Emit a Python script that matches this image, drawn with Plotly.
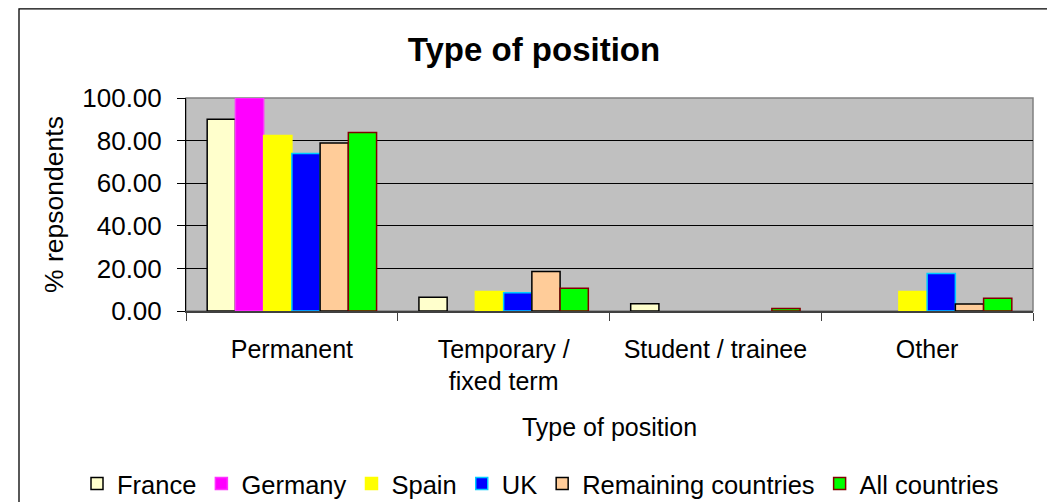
import plotly.graph_objects as go

categories = ["Permanent", "Temporary /<br>fixed term", "Student / trainee", "Other"]
france = [90.0, 6.4, 3.4, 0.0]
germany = [100.0, 0.0, 0.0, 0.0]
spain = [82.4, 9.1, 0.0, 9.1]
uk = [74.0, 8.6, 0.0, 17.6]
remaining = [78.9, 18.5, 0.0, 3.3]
all_countries = [83.8, 10.7, 1.2, 6.0]
y_ticks = [0, 20, 40, 60, 80, 100]

series = [
    ("France", france, "#FFFFCC", "#000000"),
    ("Germany", germany, "#FF00FF", "#FF33FF"),
    ("Spain", spain, "#FFFF00", "#FFFF00"),
    ("UK", uk, "#0000FF", "#00CCFF"),
    ("Remaining countries", remaining, "#FFCC99", "#000000"),
    ("All countries", all_countries, "#00FF00", "#800000"),
]

FONT = "Arial, 'Liberation Sans', sans-serif"

fig = go.Figure()
for name, vals, fill, line in series:
    fig.add_trace(go.Bar(
        name=name, x=categories,
        y=[v if v != 0 else None for v in vals],
        marker=dict(color=fill, line=dict(color=line, width=1.5)),
    ))

# page is offset by the default 8px body margin
OFF = 8
W, H = 1055 - OFF, 502 - OFF
PL, PR, PT, PB = 186 - OFF, 1033 - OFF, 98 - OFF, 311 - OFF
L, R, T, B = PL, W - PR, PT, H - PB
pw, ph = PR - PL, PB - PT

def fx(px):
    return (px - OFF - PL) / pw

def fy(py):
    return (PB - (py - OFF)) / ph

fig.update_layout(
    width=W, height=H,
    margin=dict(l=L, r=R, t=T, b=B, pad=0, autoexpand=False),
    paper_bgcolor="white",
    plot_bgcolor="#C0C0C0",
    barmode="group", bargap=0.2, bargroupgap=0,
    font=dict(family=FONT, size=25, color="black"),
    title=dict(text="<b>Type of position</b>", font=dict(size=33, family=FONT),
               x=(534 - OFF) / W, xanchor="center", xref="container",
               y=1 - (49 - OFF) / H, yanchor="middle", yref="container"),
    legend=dict(orientation="h", xref="paper", yref="paper",
                x=fx(77), xanchor="left", y=fy(484), yanchor="middle",
                font=dict(size=25.5), itemwidth=30, traceorder="normal",
                bgcolor="rgba(0,0,0,0)"),
    xaxis=dict(
        type="category", tickson="boundaries", ticks="outside", ticklen=8,
        tickcolor="#404040", tickwidth=1, automargin=False,
        showline=True, linecolor="#404040", linewidth=1.5,
        showgrid=False, ticklabelstandoff=15,
        title=dict(text="Type of position", standoff=24, font=dict(size=25)),
    ),
    yaxis=dict(
        range=[0, 100], tickvals=y_ticks, tickformat=".2f", automargin=False,
        ticks="outside", ticklen=8, tickcolor="black", tickwidth=1,
        showline=True, linecolor="black", linewidth=1,
        showgrid=True, gridcolor="black", gridwidth=1,
        zeroline=False, ticklabelstandoff=10, tickfont=dict(size=26),
        title=dict(text="% repsondents", standoff=10, font=dict(size=26.5)),
    ),
    shapes=[
        dict(type="rect", xref="paper", yref="paper", x0=0, x1=1, y0=0, y1=1,
             line=dict(color="#808080", width=1.5), layer="below"),
        dict(type="line", xref="paper", yref="paper",
             x0=fx(1051), x1=fx(1051), y0=fy(520), y1=fy(10.5),
             line=dict(color="#A0A0A0", width=1.5)),
        dict(type="rect", xref="paper", yref="paper",
             x0=fx(19), x1=fx(1049), y0=fy(520), y1=fy(8.8),
             line=dict(color="black", width=1.3), fillcolor="rgba(0,0,0,0)"),
    ],
)

fig.write_html("out.html")
